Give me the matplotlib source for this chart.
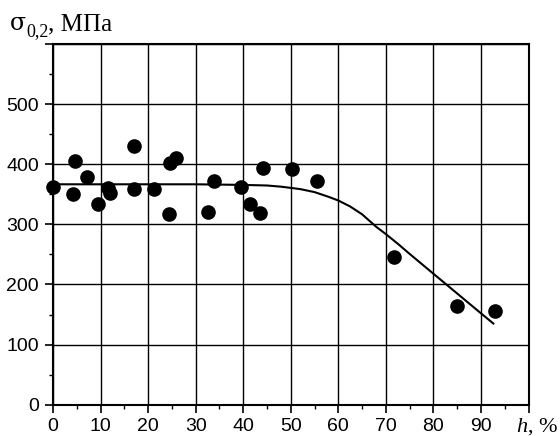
import matplotlib
matplotlib.use("Agg")
import matplotlib.pyplot as plt
from matplotlib.ticker import MultipleLocator, FixedLocator

plt.rcParams["mathtext.fontset"] = "custom"
plt.rcParams["mathtext.rm"] = "Liberation Serif"
plt.rcParams["mathtext.it"] = "Liberation Serif:italic"
plt.rcParams["mathtext.bf"] = "Liberation Serif:bold"

# Experimental points: deformation h, % and yield strength sigma_0.2, MPa
h_points = [0, 4.6, 4.3, 7.1, 9.4, 11.6, 12.0, 17.0, 17.0, 21.3, 24.6, 25.8, 24.3,
            32.5, 33.9, 39.5, 41.4, 43.6, 44.2, 50.2, 55.6, 71.7, 84.9, 92.9]
sigma_points = [362, 405, 351, 379, 334, 360, 353, 431, 359, 359, 403, 410, 318,
                320, 373, 362, 334, 319, 394, 392, 373, 245, 164, 156]

# Fitted curve
curve_h = [0, 10, 20, 30, 40, 45, 48, 52, 55, 58, 60, 62.5, 65, 68, 70, 72.5, 75,
           80, 85, 90, 92.6]
curve_sigma = [367, 367, 367, 367, 366, 365, 363, 359, 354, 346, 340, 330, 317,
               296, 284, 268, 251, 218, 185, 152, 135]

x_ticks = [0, 10, 20, 30, 40, 50, 60, 70, 80, 90, 100]
x_labels = ["0", "10", "20", "30", "40", "50", "60", "70", "80", "90", ""]
y_ticks = [0, 100, 200, 300, 400, 500, 600]
y_labels = ["0", "100", "200", "300", "400", "500", ""]

W, H = 560, 436
fig = plt.figure(figsize=(W / 100, H / 100), dpi=100)
ax = fig.add_axes([53 / W, (H - 404.5) / H, 475.5 / W, 360 / H])

ax.plot(curve_h, curve_sigma, color="black", lw=1.5, zorder=3)
ax.plot(h_points, sigma_points, "o", color="black", markersize=9.5, zorder=4,
        clip_on=False)

ax.set_xlim(0, 100)
ax.set_ylim(0, 600)
ax.xaxis.set_major_locator(FixedLocator(x_ticks))
ax.yaxis.set_major_locator(FixedLocator(y_ticks))
ax.set_xticklabels(x_labels)
ax.set_yticklabels(y_labels)
ax.xaxis.set_minor_locator(MultipleLocator(5))
ax.yaxis.set_minor_locator(MultipleLocator(50))

ax.grid(True, which="major", color="black", lw=1.0)
ax.set_axisbelow(True)
for s in ax.spines.values():
    s.set_linewidth(1.5)
    s.set_color("black")

ax.tick_params(which="major", direction="out", length=6, width=1.2, color="black",
               labelsize=14, pad=4)
ax.tick_params(which="minor", direction="out", length=3, width=1.0, color="black")
for lab in ax.get_xticklabels() + ax.get_yticklabels():
    lab.set_fontfamily("Liberation Sans")

# y-axis title: sigma with subscript 0,2 and units
fig.text(10 / W, (H - 30) / H, "σ", fontsize=17, family="DejaVu Serif",
         ha="left", va="baseline")
fig.text(26 / W, (H - 36.5) / H, "0,2", fontsize=13, family="Liberation Serif",
         ha="left", va="baseline")
fig.text(48 / W, (H - 30) / H, ", МПа", fontsize=18, family="Liberation Serif",
         ha="left", va="baseline")
# x-axis title
fig.text(558 / W, (H - 432) / H, r"$\mathit{h}$, %",
         fontsize=16, family="Liberation Serif", ha="right", va="baseline")

fig.savefig("out.png", dpi=100)
